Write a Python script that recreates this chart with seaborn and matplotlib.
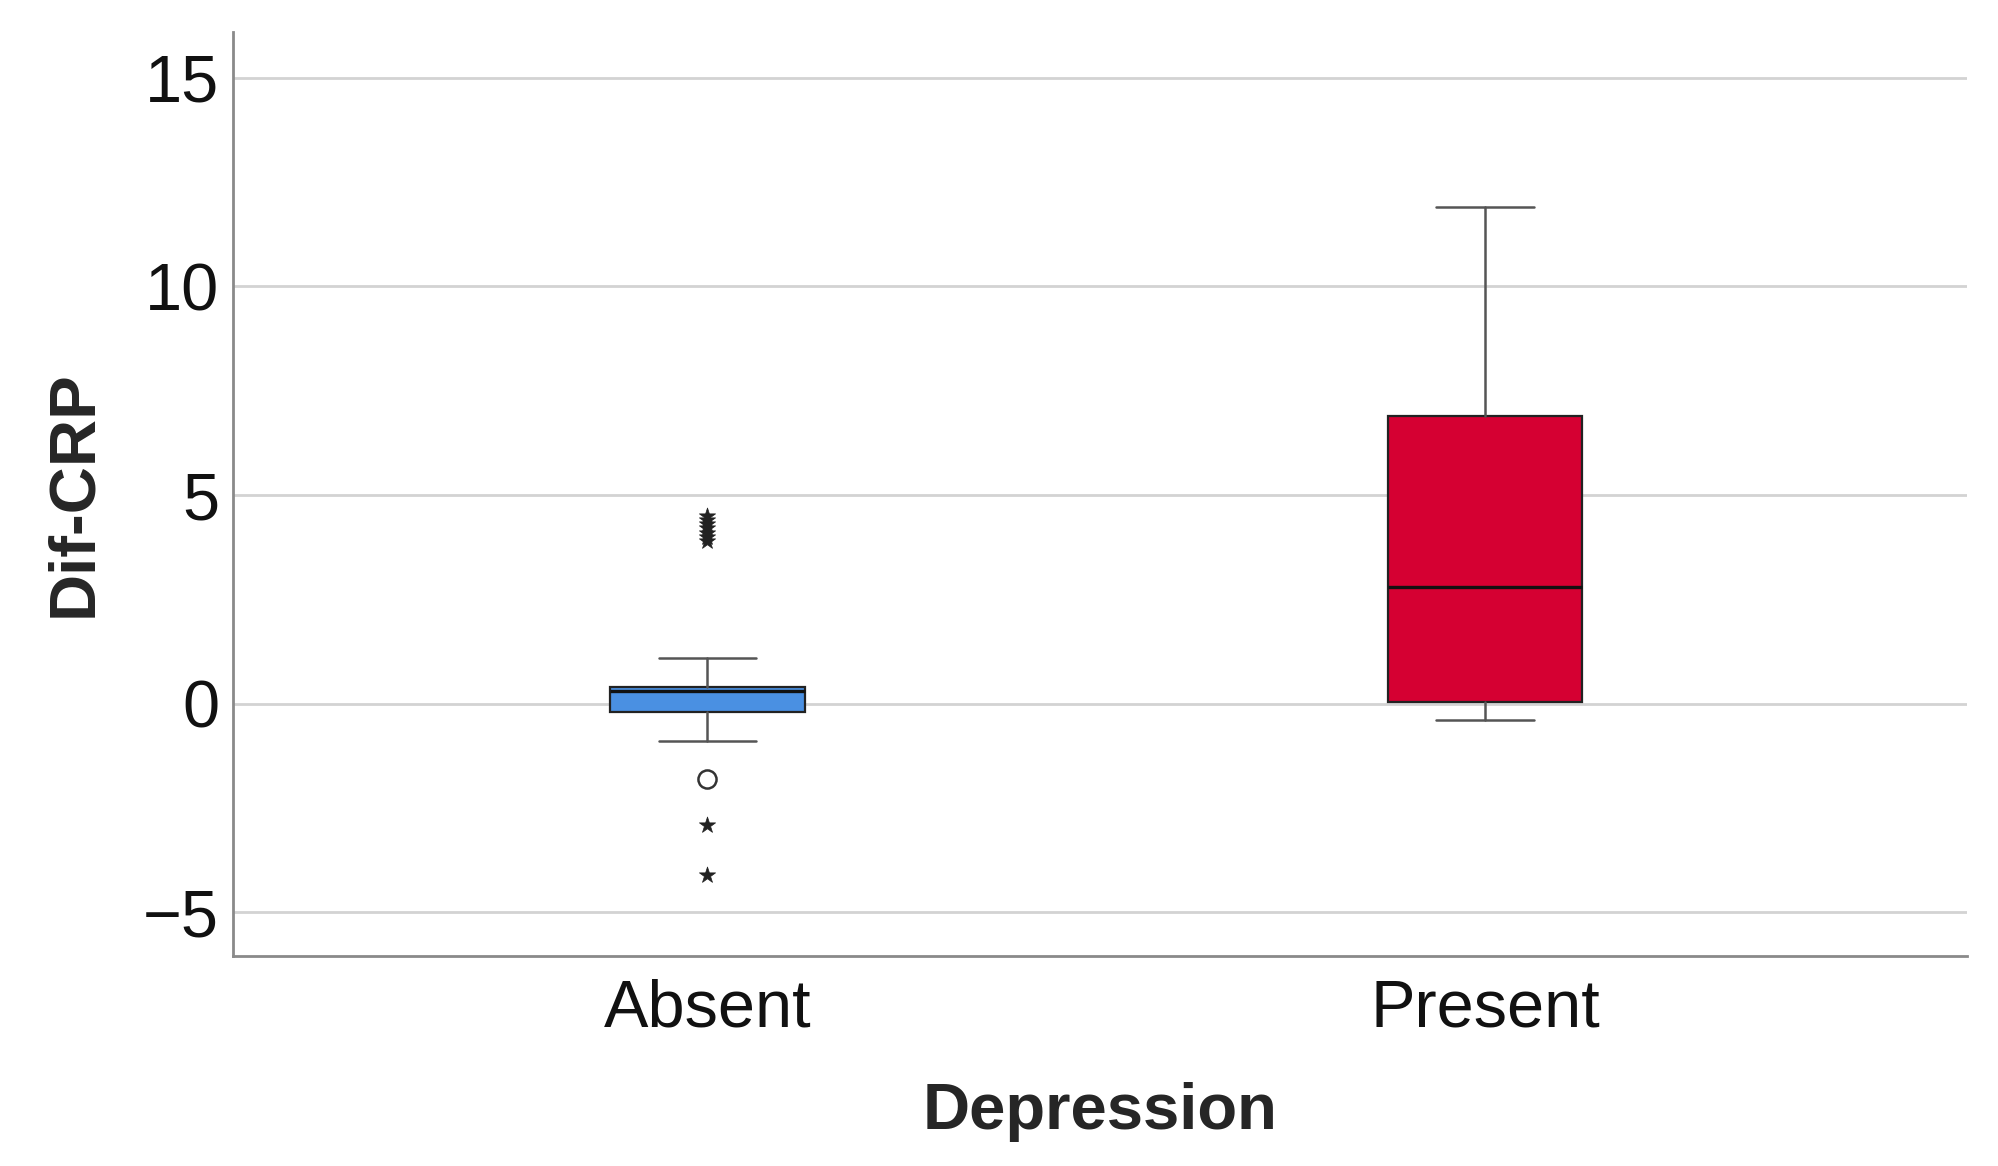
import matplotlib
matplotlib.use("Agg")
import matplotlib.pyplot as plt
import seaborn as sns
import pandas as pd

# groups on the x axis
groups = ["Absent", "Present"]
box_colors = ["#4A90E2", "#D50032"]

# box summary
q1 = [-0.2, 0.05]
median = [0.3, 2.8]
q3 = [0.4, 6.9]
whisker_low = [-0.9, -0.4]
whisker_high = [1.1, 11.9]

# outliers (circle) and extremes (star), Absent group only
outlier_vals = [-1.8]
extreme_vals = [-2.9, -4.1, 3.9, 4.0, 4.1, 4.2, 4.3, 4.4, 4.5]

yticks = [-5, 0, 5, 10, 15]

sns.set_style("white")
plt.rcParams["font.family"] = ["Liberation Sans", "DejaVu Sans"]

fig, ax = plt.subplots(figsize=(19.99, 11.66), dpi=100)
fig.subplots_adjust(left=0.1166, right=0.984, top=0.9726, bottom=0.18)

stats = []
for i, g in enumerate(groups):
    stats.append({"label": g, "q1": q1[i], "med": median[i], "q3": q3[i],
                  "whislo": whisker_low[i], "whishi": whisker_high[i], "fliers": []})

bp = ax.bxp(stats, positions=range(len(groups)), widths=0.25, capwidths=0.125,
            patch_artist=True, showfliers=False,
            boxprops=dict(edgecolor="#222222", linewidth=1.6),
            medianprops=dict(color="#111111", linewidth=2.4),
            whiskerprops=dict(color="#555555", linewidth=1.8),
            capprops=dict(color="#555555", linewidth=1.8), zorder=3)
for patch, c in zip(bp["boxes"], box_colors):
    patch.set_facecolor(c)

out_df = pd.DataFrame({"x": [0] * len(outlier_vals), "y": outlier_vals})
ext_df = pd.DataFrame({"x": [0] * len(extreme_vals), "y": extreme_vals})
sns.scatterplot(data=out_df, x="x", y="y", ax=ax, marker="o", s=170,
                facecolor="white", edgecolor="#333333", linewidth=1.8, zorder=4)
sns.scatterplot(data=ext_df, x="x", y="y", ax=ax, marker="*", s=150,
                color="#222222", edgecolor="#222222", linewidth=0.5, zorder=4)

ax.set_xlim(-0.61, 1.62)
ax.set_ylim(-6.05, 16.1)
ax.set_yticks(yticks)
ax.set_xticks(range(len(groups)))
ax.set_xticklabels(groups)
ax.yaxis.grid(True, color="#d3d3d3", linewidth=2)
ax.set_axisbelow(True)

for s in ["top", "right"]:
    ax.spines[s].set_visible(False)
for s in ["left", "bottom"]:
    ax.spines[s].set_color("#8a8a8a")
    ax.spines[s].set_linewidth(2)

ax.tick_params(axis="both", length=0, labelsize=48, colors="#111111")
ax.tick_params(axis="x", pad=16)
ax.tick_params(axis="y", pad=10)
ax.set_xlabel("Depression", fontsize=47, fontweight="bold", labelpad=30)
ax.set_ylabel("Dif-CRP", fontsize=47, fontweight="bold", labelpad=28)

fig.savefig("out.png", dpi=100)
